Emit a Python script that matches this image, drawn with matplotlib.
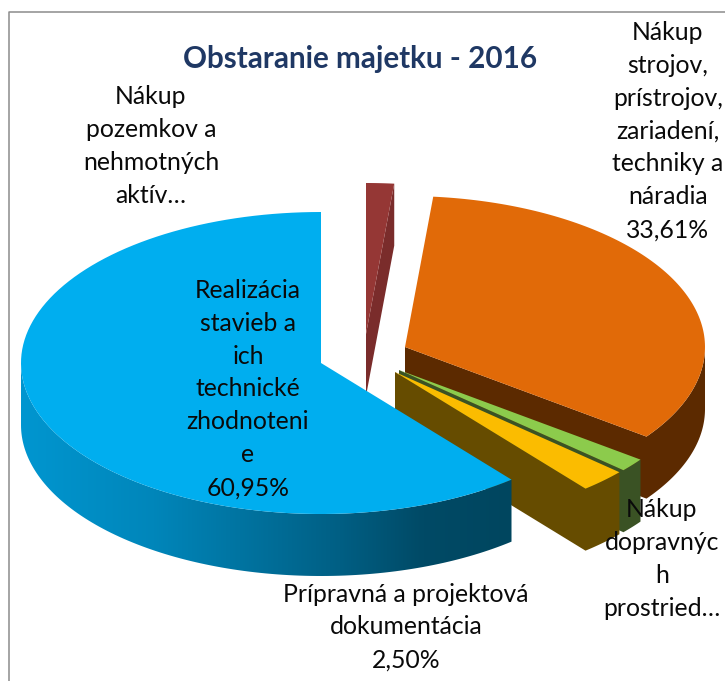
import numpy as np
import matplotlib
matplotlib.use("Agg")
import matplotlib.pyplot as plt
from matplotlib.patches import Polygon
from matplotlib.colors import LinearSegmentedColormap

plt.rcParams['font.family'] = ['Lato', 'DejaVu Sans']

# ---- data ----
categories = ["Nákup pozemkov a nehmotných aktív",
              "Nákup strojov, prístrojov, zariadení, techniky a náradia",
              "Nákup dopravných prostriedkov",
              "Prípravná a projektová dokumentácia",
              "Realizácia stavieb a ich technické zhodnotenie"]
values = [1.50, 33.61, 1.44, 2.50, 60.95]
label_texts = ["Nákup\npozemkov a\nnehmotných\naktív…",
               "Nákup\nstrojov,\nprístrojov,\nzariadení,\ntechniky a\nnáradia\n33,61%",
               "Nákup\ndopravnýc\nh\nprostried…",
               "Prípravná a projektová\ndokumentácia\n2,50%",
               "Realizácia\nstavieb a\nich\ntechnické\nzhodnoteni\ne\n60,95%"]
title_text = "Obstaranie majetku - 2016"

# ---- style / layout (pixel axes) ----
W, H = 725, 681
RX, RY, DEPTH = 300, 151, 62
centers = [(366, 334), (405, 347), (399, 370), (395, 372), (321, 363)]
top_colors = ["#953735", "#E16A08", "#8CCB4C", "#FBBC00", "#00AEEF"]
wall_colors = ["#7A2C2B", "#5C2A00", "#3A5224", "#664C00", None]
label_xy = [(151, 146), (668, 131), (662, 559), (406, 627), (248, 389)]
LINESPACING = 1.52
FS = 17.8

fig = plt.figure(figsize=(W / 100, H / 100), dpi=100, facecolor="white")
ax = fig.add_axes([0, 0, 1, 1])
ax.set_xlim(0, W)
ax.set_ylim(H, 0)
ax.axis("off")

ax.plot([9, 9, W], [H, 11.5, 11.5], color="#8C8C8C", lw=1.1, zorder=0)


def rim(c, a0, a1, n=120, dz=0):
    t = np.radians(np.linspace(a0, a1, n))
    return np.column_stack([c[0] + RX * np.sin(t), c[1] - RY * np.cos(t) + dz])


blue_cmap = LinearSegmentedColormap.from_list(
    "bw", [(0, "#0096D0"), (0.27, "#0086BA"), (0.65, "#005F84"),
           (0.82, "#004A66"), (1, "#00465F")])

angles = np.cumsum([0] + values) * 3.6
for i, c in enumerate(centers):
    a0, a1 = angles[i], angles[i + 1]
    z = 2 + i
    b0, b1 = max(a0, 90), min(a1, 270)
    if wall_colors[i] is not None:
        # cut face on the clockwise end joined with the visible outer wall
        end_up = rim(c, a1, a1, 1)
        end_low = rim(c, a1, a1, 1, dz=DEPTH)
        if b1 > b0:
            up = rim(c, b1, b0)
            low = rim(c, b0, b1, dz=DEPTH)
            outline = np.vstack([[c], up, low, [(c[0], c[1] + DEPTH)]])
        else:
            outline = np.vstack([[c], end_up, end_low, [(c[0], c[1] + DEPTH)]])
        ax.add_patch(Polygon(outline, closed=True, fc=wall_colors[i], ec="none", zorder=z))
    else:
        # gradient outer wall, shaded from left to right
        up = rim(c, b0, b1)
        low = rim(c, b1, b0, dz=DEPTH)
        wall = Polygon(np.vstack([up, low]), closed=True, fc="none", ec="none",
                       transform=ax.transData)
        ax.add_patch(wall)
        xmin, xmax = up[:, 0].min(), up[:, 0].max()
        img = ax.imshow(np.linspace(0, 1, 512)[None, :], cmap=blue_cmap, aspect="auto",
                        extent=(xmin, xmax, H, 0), zorder=z, interpolation="bilinear")
        img.set_clip_path(wall)
        ax.set_xlim(0, W)
        ax.set_ylim(H, 0)
    ax.add_patch(Polygon(np.vstack([[c], rim(c, a0, a1)]), closed=True,
                         fc=top_colors[i], ec="none", zorder=z + 0.5))

ax.text(360.5, 59, title_text, ha="center", va="center", color="#1F3864",
        fontsize=21.3, fontweight="bold", zorder=20)

for txt, (x, y) in zip(label_texts, label_xy):
    ax.text(x, y, txt, ha="center", va="center", color="#0A0A0A", fontsize=FS,
            linespacing=LINESPACING, multialignment="center", zorder=20)

fig.savefig("out.png", dpi=100)
